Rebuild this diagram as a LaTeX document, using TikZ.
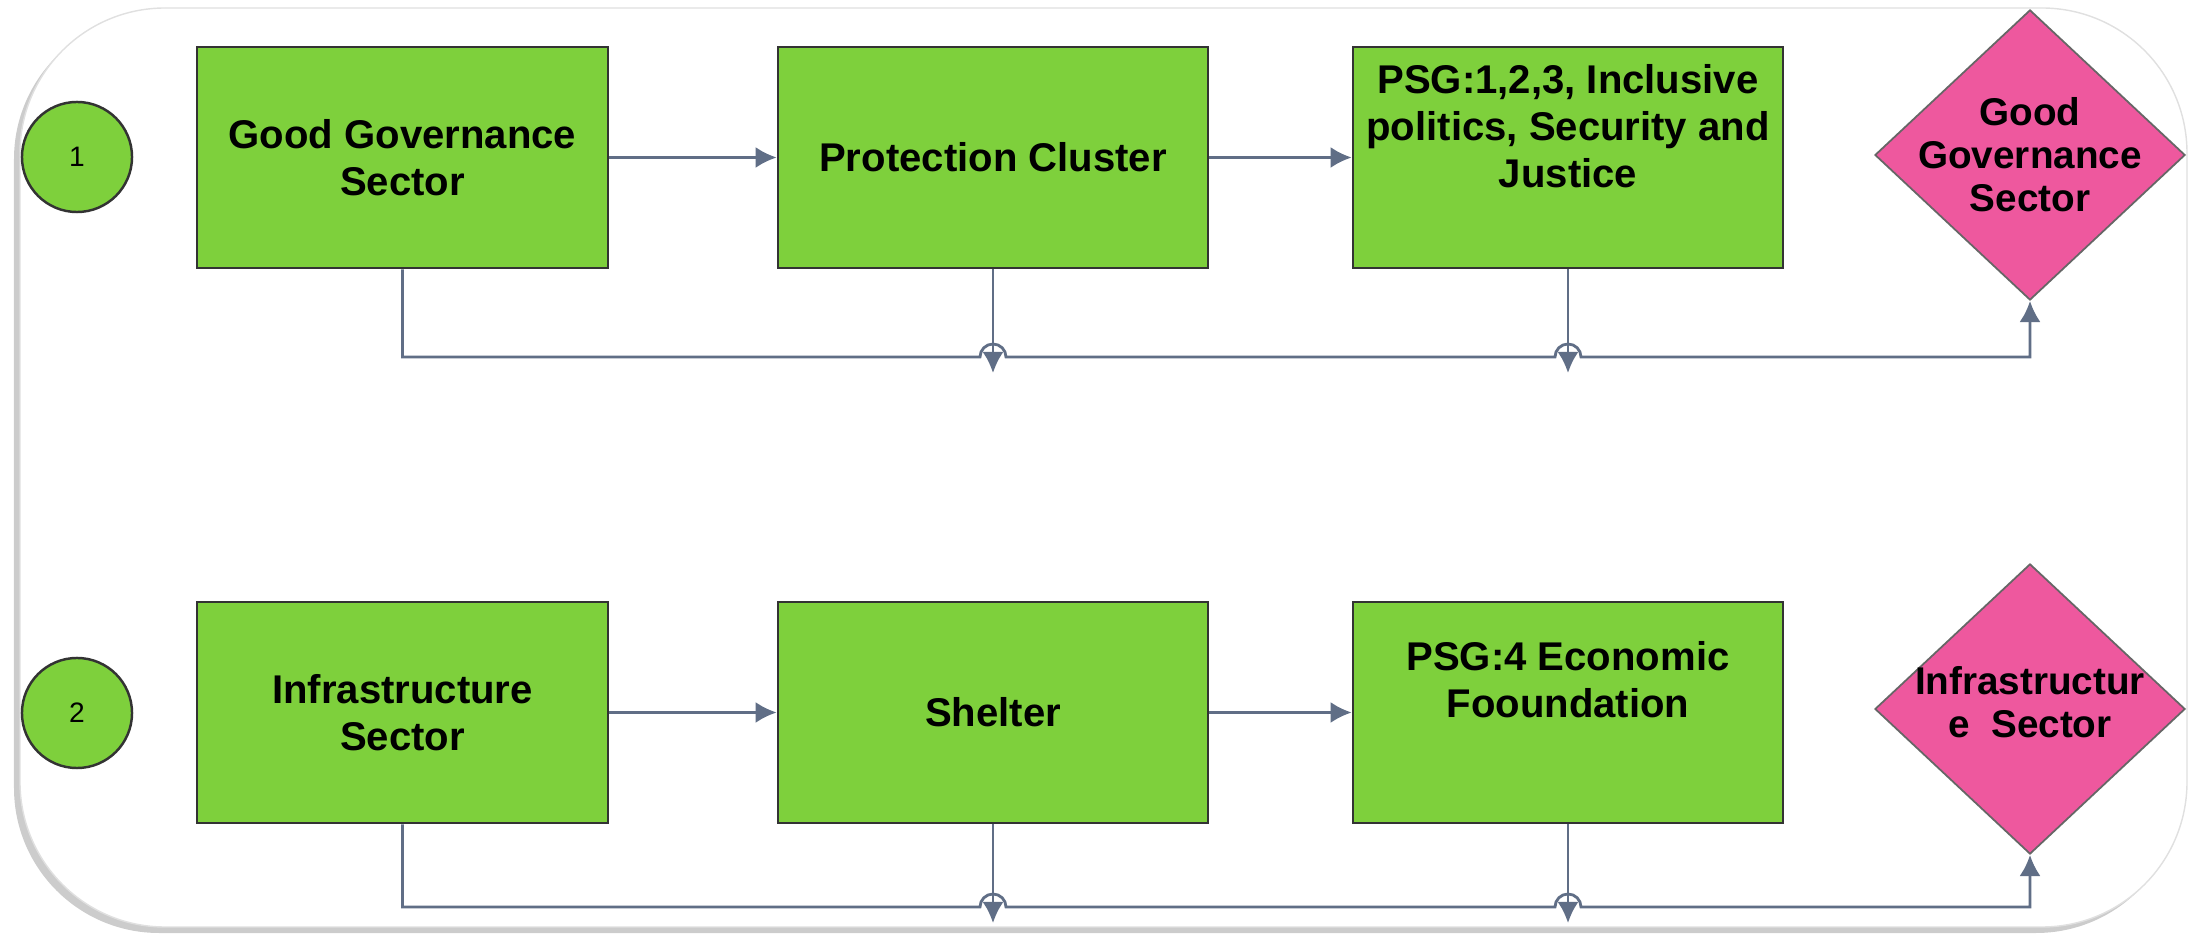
\documentclass[tikz,border=0pt]{standalone}
\usepackage{fontspec}
\setmainfont{Liberation Sans}
\usetikzlibrary{shapes.geometric,arrows.meta,shadows}

\definecolor{boxgreen}{RGB}{126,208,60}
\definecolor{decpink}{RGB}{238,88,158}
\definecolor{linec}{RGB}{96,110,134}

\begin{document}
\begin{tikzpicture}[x=0.01cm, y=-0.01cm, >={Latex[length=6pt,width=6pt]},
        box/.style={draw=black!80, line width=.7pt, fill=boxgreen, minimum height=2.21cm, align=center, font=\bfseries\fontsize{11.4}{13.4}\selectfont},
        boxtext/.style={align=center, font=\bfseries\fontsize{11.4}{13.4}\selectfont},
        decision/.style={diamond, draw=black!60, line width=.5pt, fill=decpink, minimum width=3.1cm, minimum height=2.9cm, inner sep=0pt},
        dectext/.style={align=center, font=\bfseries\fontsize{11}{12.2}\selectfont},
        num/.style={circle, draw=black!80, line width=.7pt, fill=boxgreen, minimum size=1.1cm, inner sep=0pt, font=\fontsize{8}{9}\selectfont},
        conn/.style={linec, line width=.8pt}]
    \useasboundingbox (0,0) rectangle (2193,934);
    % frame
    \draw[black!12, fill=white, rounded corners=1.45cm, drop shadow={shadow xshift=-.6mm, shadow yshift=-.6mm, fill=black!40}] (20,8) rectangle (2187,927);

    % row 1
    \node[num] (n1) at (77,157) {1};
    \node[box, minimum width=4.11cm] (gg) at (402.5,157.5) {Good Governance\\Sector};
    \node[box, minimum width=4.3cm] (pc) at (993,157.5) {Protection Cluster};
    \node[box, minimum width=4.3cm] (psg) at (1568,157.5) {};
    \node[boxtext] (psgt) at (1568,126) {PSG:1,2,3, Inclusive\\politics, Security and\\Justice};
    \node[decision] (d1) at (2030,155) {};
    \node[dectext] (d1t) at (d1) {Good\\Governance\\Sector};

    \draw[conn, ->] (gg) -- (pc);
    \draw[conn, ->] (pc) -- (psg);
    \draw[conn, ->] (gg.south) -- (402.5,357) -- (980,357) arc (180:360:13) -- (1555,357) arc (180:360:13) -- (2030,357) -- (d1.south);
    \draw[conn, ->] (pc.south) -- (993,373);
    \draw[conn, ->] (psg.south) -- (1568,373);

    % row 2
    \node[num] (n2) at (77,713) {2};
    \node[box, minimum width=4.11cm] (inf) at (402.5,712.5) {Infrastructure\\Sector};
    \node[box, minimum width=4.3cm] (sh) at (993,712.5) {Shelter};
    \node[box, minimum width=4.3cm] (eco) at (1568,712.5) {};
    \node[boxtext] (ecot) at (1568,680) {PSG:4 Economic\\Fooundation};
    \node[decision] (d2) at (2030,709) {};
    \node[dectext] (d2t) at (2030,702) {Infrastructur\\e\ \ Sector};

    \draw[conn, ->] (inf) -- (sh);
    \draw[conn, ->] (sh) -- (eco);
    \draw[conn, ->] (inf.south) -- (402.5,907) -- (980,907) arc (180:360:13) -- (1555,907) arc (180:360:13) -- (2030,907) -- (d2.south);
    \draw[conn, ->] (sh.south) -- (993,923);
    \draw[conn, ->] (eco.south) -- (1568,923);
\end{tikzpicture}
\end{document}
